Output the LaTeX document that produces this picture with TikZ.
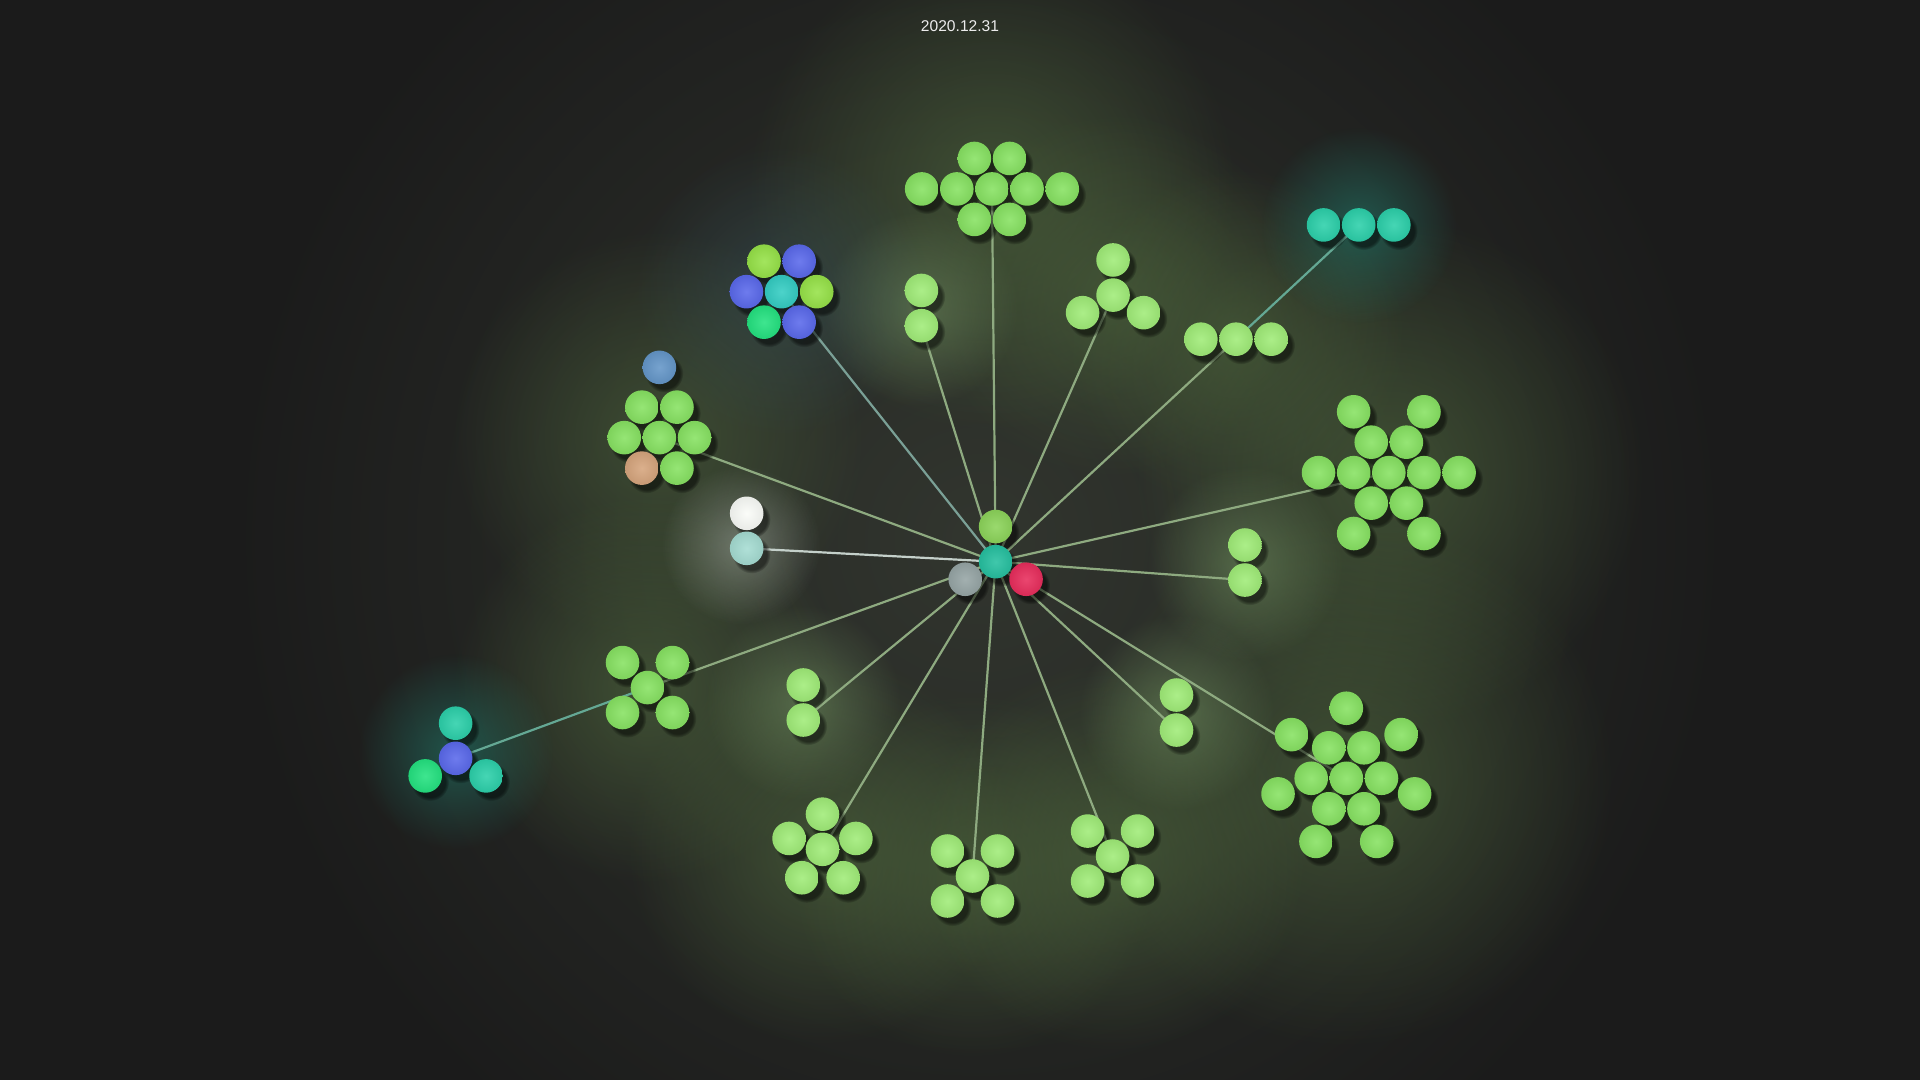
\documentclass[tikz,border=0pt]{standalone}
\usepackage{fontspec}
\setmainfont{Liberation Sans}
\usetikzlibrary{fadings}
\tikzfading[name=softglow, inner color=transparent!0, outer color=transparent!100]
\pgfdeclarelayer{glowlayer}
\pgfdeclarelayer{edgelayer}
\pgfdeclarelayer{shadowlayer}
\pgfsetlayers{glowlayer,edgelayer,shadowlayer,main}
\definecolor{bgc}{RGB}{27,27,27}
\definecolor{hazec}{RGB}{50,54,47}
\definecolor{olivec}{RGB}{80,106,62}
\definecolor{pairglowc}{RGB}{112,142,96}
\definecolor{tealglowc}{RGB}{32,128,112}
\definecolor{blueglowc}{RGB}{62,96,104}
\definecolor{whiteglowc}{RGB}{220,228,220}
\definecolor{edgec}{RGB}{142,170,128}
\definecolor{tealedgec}{RGB}{100,168,148}
\definecolor{blueedgec}{RGB}{122,160,150}
\definecolor{whiteedgec}{RGB}{196,208,202}
\definecolor{gballc}{RGB}{135,226,98}
\definecolor{pballc}{RGB}{160,236,120}
\definecolor{blueballc}{RGB}{90,105,235}
\definecolor{tealballc}{RGB}{44,208,170}
\definecolor{aquaballc}{RGB}{52,205,195}
\definecolor{springballc}{RGB}{36,226,128}
\definecolor{limeballc}{RGB}{150,226,72}
\definecolor{steelballc}{RGB}{100,150,200}
\definecolor{tanballc}{RGB}{214,165,125}
\definecolor{whiteballc}{RGB}{250,252,248}
\definecolor{paletealballc}{RGB}{165,220,210}
\definecolor{grayballc}{RGB}{150,165,165}
\definecolor{redballc}{RGB}{232,45,92}
\definecolor{hubgreenc}{RGB}{140,212,90}
\definecolor{hubtealc}{RGB}{38,192,160}
\definecolor{titlec}{RGB}{236,236,236}
\tikzset{
  ball/.style={circle, inner sep=0pt, minimum size=16.8pt, inner color=#1!88!white, outer color=#1!93!black},
  linkline/.style={line width=1.1pt, draw=edgec, line cap=round},
}
\newcommand\ball[4]{%
  \begin{pgfonlayer}{shadowlayer}
    \fill[black, fill opacity=0.5, path fading=circle with fuzzy edge 20 percent, shift={(4,5)}] (#2,#3) circle (15.5);
  \end{pgfonlayer}
  \node[ball=#4] (#1) at (#2,#3) {};
}
\newcommand\glowat[5]{\fill[#4, fill opacity=#5, path fading=softglow] (#1,#2) circle (#3);}
\begin{document}
\begin{tikzpicture}[x=0.6122pt, y=-0.6122pt]
\useasboundingbox (0,0) rectangle (1568,882);
\begin{pgfonlayer}{glowlayer}
  \fill[bgc] (0,0) rectangle (1568,882);
  \glowat{800}{440}{620}{hazec}{1}
  \glowat{810}{154}{200}{olivec}{0.6}
  \glowat{538}{357}{170}{olivec}{0.55}
  \glowat{1134}{386}{210}{olivec}{0.6}
  \glowat{1099}{636}{220}{olivec}{0.6}
  \glowat{672}{694}{160}{olivec}{0.6}
  \glowat{794}{715}{150}{olivec}{0.55}
  \glowat{909}{699}{160}{olivec}{0.6}
  \glowat{529}{562}{160}{olivec}{0.6}
  \glowat{909}{241}{150}{olivec}{0.5}
  \glowat{1009}{277}{140}{olivec}{0.5}
  \glowat{752}{252}{80}{pairglowc}{0.55}
  \glowat{656}{574}{80}{pairglowc}{0.55}
  \glowat{961}{582}{80}{pairglowc}{0.55}
  \glowat{1017}{460}{80}{pairglowc}{0.55}
  \glowat{1110}{184}{80}{tealglowc}{0.55}
  \glowat{372}{614}{80}{tealglowc}{0.55}
  \glowat{638}{238}{120}{blueglowc}{0.4}
  \glowat{605}{445}{65}{whiteglowc}{0.35}
\end{pgfonlayer}

\node[font=\fontsize{7.8}{9}\selectfont, text=titlec] (title) at (784,21) {2020.12.31};

% hub
\ball{h0}{813.1}{458.7}{hubtealc}
\ball{h1}{813.1}{430}{hubgreenc}
\ball{h2}{788.25}{473.05}{grayballc}
\ball{h3}{837.95}{473.05}{redballc}

% top cluster
\ball{tc}{810.1}{154.3}{gballc}
\ball{t1}{795.75}{129.4}{gballc}
\ball{t2}{824.45}{129.4}{gballc}
\ball{t3}{752.7}{154.3}{gballc}
\ball{t4}{781.4}{154.3}{gballc}
\ball{t5}{838.8}{154.3}{gballc}
\ball{t6}{867.5}{154.3}{gballc}
\ball{t7}{795.75}{179.2}{gballc}
\ball{t8}{824.45}{179.2}{gballc}

% blue cluster
\ball{bc}{638.3}{238.2}{aquaballc}
\ball{b1}{623.95}{213.3}{limeballc}
\ball{b2}{652.65}{213.3}{blueballc}
\ball{b3}{609.6}{238.2}{blueballc}
\ball{b4}{667}{238.2}{limeballc}
\ball{b5}{623.95}{263.1}{springballc}
\ball{b6}{652.65}{263.1}{blueballc}

% pair A
\ball{a1}{752.5}{237.2}{pballc}
\ball{a2}{752.5}{266}{pballc}

% cluster of four
\ball{q0}{909}{241}{pballc}
\ball{q1}{909}{212.3}{pballc}
\ball{q2}{884.1}{255.35}{pballc}
\ball{q3}{933.9}{255.35}{pballc}

% teal three and green three
\ball{u1}{1080.9}{183.7}{tealballc}
\ball{u2}{1109.6}{183.7}{tealballc}
\ball{u3}{1138.3}{183.7}{tealballc}
\ball{g1}{980.7}{277}{pballc}
\ball{g2}{1009.4}{277}{pballc}
\ball{g3}{1038.1}{277}{pballc}

% left cluster
\ball{l0}{538.5}{357.4}{gballc}
\ball{l1}{524.15}{332.5}{gballc}
\ball{l2}{552.85}{332.5}{gballc}
\ball{l3}{509.8}{357.4}{gballc}
\ball{l4}{567.2}{357.4}{gballc}
\ball{l5}{524.15}{382.3}{tanballc}
\ball{l6}{552.85}{382.3}{gballc}
\ball{l7}{538.5}{300}{steelballc}

% white pair
\ball{w1}{609.8}{419.2}{whiteballc}
\ball{w2}{609.8}{447.8}{paletealballc}

% right cluster
\ball{r0}{1134.2}{386}{gballc}
\ball{r1}{1119.85}{361.1}{gballc}
\ball{r2}{1148.55}{361.1}{gballc}
\ball{r3}{1105.5}{386}{gballc}
\ball{r4}{1162.9}{386}{gballc}
\ball{r5}{1119.85}{410.9}{gballc}
\ball{r6}{1148.55}{410.9}{gballc}
\ball{r7}{1076.8}{386}{gballc}
\ball{r8}{1191.6}{386}{gballc}
\ball{r9}{1105.5}{336.3}{gballc}
\ball{r10}{1162.9}{336.3}{gballc}
\ball{r11}{1105.5}{435.7}{gballc}
\ball{r12}{1162.9}{435.7}{gballc}

% pair G
\ball{p1}{1016.7}{445.1}{pballc}
\ball{p2}{1016.7}{473.7}{pballc}

% bottom-left five
\ball{s0}{528.8}{561.5}{gballc}
\ball{s1}{508.4}{541.1}{gballc}
\ball{s2}{549.2}{541.1}{gballc}
\ball{s3}{508.4}{581.9}{gballc}
\ball{s4}{549.2}{581.9}{gballc}

% trio
\ball{v0}{372.1}{619.3}{blueballc}
\ball{v1}{372.1}{590.6}{tealballc}
\ball{v2}{347.25}{633.65}{springballc}
\ball{v3}{396.95}{633.65}{tealballc}

% pair B
\ball{m1}{656}{559.4}{pballc}
\ball{m2}{656}{588}{pballc}

% cluster C
\ball{c0}{671.7}{693.6}{pballc}
\ball{c1}{671.7}{664.9}{pballc}
\ball{c2}{699}{684.73}{pballc}
\ball{c3}{688.57}{716.82}{pballc}
\ball{c4}{654.83}{716.82}{pballc}
\ball{c5}{644.4}{684.73}{pballc}

% cluster D
\ball{d0}{794.2}{715.4}{pballc}
\ball{d1}{773.8}{695}{pballc}
\ball{d2}{814.6}{695}{pballc}
\ball{d3}{773.8}{735.8}{pballc}
\ball{d4}{814.6}{735.8}{pballc}

% cluster E
\ball{e0}{908.6}{699.1}{pballc}
\ball{e1}{888.2}{678.7}{pballc}
\ball{e2}{929}{678.7}{pballc}
\ball{e3}{888.2}{719.5}{pballc}
\ball{e4}{929}{719.5}{pballc}

% pair F
\ball{f1}{960.8}{567.6}{pballc}
\ball{f2}{960.8}{596.2}{pballc}

% bottom-right cluster
\ball{k0}{1099.5}{635.6}{gballc}
\ball{k1}{1085.15}{610.7}{gballc}
\ball{k2}{1113.85}{610.7}{gballc}
\ball{k3}{1070.8}{635.6}{gballc}
\ball{k4}{1128.2}{635.6}{gballc}
\ball{k5}{1085.15}{660.5}{gballc}
\ball{k6}{1113.85}{660.5}{gballc}
\ball{k7}{1099.5}{578.4}{gballc}
\ball{k8}{1144.22}{599.94}{gballc}
\ball{k9}{1054.78}{599.94}{gballc}
\ball{k10}{1155.27}{648.33}{gballc}
\ball{k11}{1043.73}{648.33}{gballc}
\ball{k12}{1124.32}{687.14}{gballc}
\ball{k13}{1074.68}{687.14}{gballc}

\begin{pgfonlayer}{edgelayer}
  \draw[linkline] (h0.center) -- (tc.center);
  \draw[linkline, draw=blueedgec] (h0.center) -- (bc.center);
  \draw[linkline] (h0.center) -- (a2.center);
  \draw[linkline] (h0.center) -- (q0.center);
  \draw[linkline] (h0.center) -- (g2.center);
  \draw[linkline, draw=tealedgec] (g2.center) -- (u2.center);
  \draw[linkline] (h0.center) -- (l0.center);
  \draw[linkline, draw=whiteedgec] (h0.center) -- (w2.center);
  \draw[linkline] (h0.center) -- (r0.center);
  \draw[linkline] (h0.center) -- (p2.center);
  \draw[linkline] (h0.center) -- (s0.center);
  \draw[linkline, draw=tealedgec] (s0.center) -- (v0.center);
  \draw[linkline] (h0.center) -- (m2.center);
  \draw[linkline] (h0.center) -- (c0.center);
  \draw[linkline] (h0.center) -- (d0.center);
  \draw[linkline] (h0.center) -- (e0.center);
  \draw[linkline] (h0.center) -- (f2.center);
  \draw[linkline] (h0.center) -- (k0.center);
\end{pgfonlayer}
\end{tikzpicture}
\end{document}
